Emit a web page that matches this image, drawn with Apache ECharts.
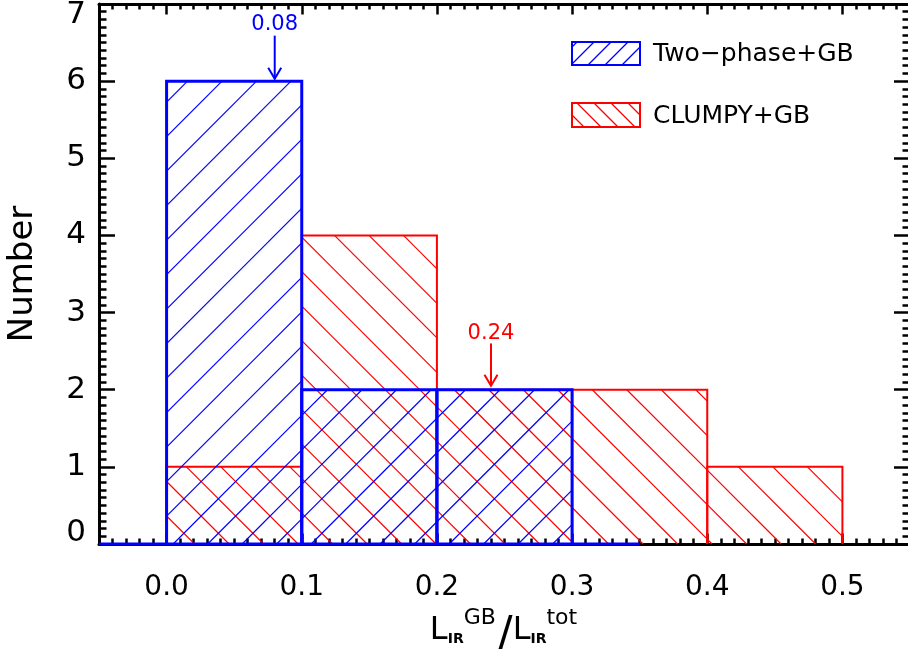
<!DOCTYPE html>
<html><head><meta charset="utf-8">
<script src="https://cdn.jsdelivr.net/npm/echarts@6/dist/echarts.min.js"></script>
<style>html,body{margin:0;padding:0;background:#fff}#c{width:908px;height:649px}</style>
</head><body><div id="c"></div>
<script>
// ---- data ----
const binStarts = [0.0, 0.1, 0.2, 0.3, 0.4];
const binWidth = 0.1;
const twoPhaseCounts = [6, 2, 2];
const clumpyCounts = [1, 4, 2, 2, 1];
const seriesNames = ['Two\u2212phase+GB', 'CLUMPY+GB'];
const xTickValues = [0.0, 0.1, 0.2, 0.3, 0.4, 0.5];
const xTickLabels = ['0.0', '0.1', '0.2', '0.3', '0.4', '0.5'];
const yTickValues = [0, 1, 2, 3, 4, 5, 6, 7];
const medianX = [0.08, 0.24];
const medianLabels = ['0.08', '0.24'];
const medianArrowTop = [6.59, 2.60];
const medianArrowTip = [6.03, 2.05];
const medianTextY = [6.74, 2.73];
const twoPhaseBaseline = [-0.05, 0.35];
const X_MIN = -0.05, X_MAX = 0.55, Y_MIN = 0, Y_MAX = 7;

const BLUE = '#0000ff', RED = '#ff0000';
const FONT = 'DejaVu Sans';

// minor tick positions (every 0.01 on x)
const xMinor = [];
for (let i = -5; i <= 55; i++) { if (i % 10 !== 0) xMinor.push(+(i / 100).toFixed(2)); }

function hatchLines(xl, yt, xr, yb, dir, spacing, px, py) {
  const segs = [];
  if (dir > 0) { // "/" : x + y = c
    const c0 = px + py;
    const k = Math.ceil((xl + yt - c0) / spacing);
    for (let c = c0 + k * spacing; c <= xr + yb; c += spacing) {
      const ya = Math.max(yt, c - xr), yb2 = Math.min(yb, c - xl);
      if (yb2 - ya > 0.3) segs.push([c - ya, ya, c - yb2, yb2]);
    }
  } else { // "\" : x - y = c
    const c0 = px - py;
    const k = Math.ceil((xl - yb - c0) / spacing);
    for (let c = c0 + k * spacing; c <= xr - yt; c += spacing) {
      const ya = Math.max(yt, xl - c), yb2 = Math.min(yb, xr - c);
      if (yb2 - ya > 0.3) segs.push([c + ya, ya, c + yb2, yb2]);
    }
  }
  return segs;
}

function histRender(color, dir, phase, outlineW) {
  return function (params, api) {
    const p0 = api.coord([api.value(0), 0]);
    const p1 = api.coord([api.value(1), api.value(2)]);
    const o = api.coord([0, 0]);
    const xl = p0[0], xr = p1[0], yt = p1[1], yb = p0[1];
    const children = hatchLines(xl, yt, xr, yb, dir, 34.5, o[0] + phase, o[1]).map(s => ({
      type: 'line', shape: { x1: s[0], y1: s[1], x2: s[2], y2: s[3] },
      style: { stroke: color, lineWidth: 1.2 }
    }));
    children.push({
      type: 'polyline', shape: { points: [[xl, yb], [xl, yt], [xr, yt], [xr, yb]] },
      style: { stroke: color, lineWidth: outlineW, fill: null }
    });
    return { type: 'group', children };
  };
}

function legendItem(y, h, color, dir, text) {
  const x = 572, w = 68;
  const els = hatchLines(x, y, x + w, y + h, dir, 17, x + 5, y).map(s => ({
    type: 'line', shape: { x1: s[0], y1: s[1], x2: s[2], y2: s[3] },
    style: { stroke: color, lineWidth: 1.2 }
  }));
  els.push({ type: 'rect', shape: { x, y, width: w, height: h }, style: { stroke: color, lineWidth: 2, fill: null } });
  els.push({ type: 'text', style: { text, x: 653, y: y + h / 2 + 1, fill: '#000', font: '25px "' + FONT + '"', verticalAlign: 'middle', align: 'left' } });
  return els;
}

const chart = echarts.init(document.getElementById('c'), null, { renderer: 'canvas' });

const xCommon = { type: 'value', min: X_MIN, max: X_MAX, splitLine: { show: false }, gridIndex: 0 };
const yCommon = { type: 'value', min: Y_MIN, max: Y_MAX, interval: 1, splitLine: { show: false }, gridIndex: 0 };

const option = {
  animation: false,
  backgroundColor: '#fff',
  grid: { left: 99, right: -2, top: 4, bottom: 105, containLabel: false, outerBoundsMode: 'none' },
  xAxis: [
    Object.assign({}, xCommon, {
      position: 'bottom',
      axisLine: { show: true, onZero: false, lineStyle: { color: '#000', width: 3 } },
      axisTick: { show: true, inside: true, length: 10.5, customValues: xTickValues, lineStyle: { color: '#000', width: 2.5 } },
      axisLabel: { show: true, customValues: xTickValues, margin: 30, color: '#000', fontSize: 28, fontFamily: FONT,
        formatter: v => { const i = xTickValues.findIndex(t => Math.abs(t - v) < 1e-6); return i >= 0 ? xTickLabels[i] : ''; } },
      name: '{L|L}{sub|IR}{sup|GB}{sl|/}{L|L}{sub|IR}{sup|tot}',
      nameLocation: 'middle', nameGap: 52,
      nameTextStyle: {
        color: '#000', fontFamily: FONT,
        rich: {
          L: { fontSize: 32, fontFamily: FONT, color: '#000', verticalAlign: 'middle' },
          sub: { fontSize: 14, fontWeight: 'bold', fontFamily: FONT, color: '#000', padding: [16, 0, 0, 0], verticalAlign: 'middle' },
          sup: { fontSize: 22, fontFamily: FONT, color: '#000', padding: [0, 2, 26, 0], verticalAlign: 'middle' },
          sl: { fontSize: 44, fontFamily: FONT, color: '#000', verticalAlign: 'middle', padding: [12, 0, 0, 0] }
        }
      }
    }),
    Object.assign({}, xCommon, {
      position: 'bottom',
      axisLine: { show: false, onZero: false },
      axisTick: { show: true, inside: true, length: 5.5, customValues: xMinor, lineStyle: { color: '#000', width: 2.5 } },
      axisLabel: { show: false }
    }),
    Object.assign({}, xCommon, {
      position: 'top',
      axisLine: { show: true, onZero: false, lineStyle: { color: '#000', width: 3 } },
      axisTick: { show: true, inside: true, length: 10.5, customValues: xTickValues, lineStyle: { color: '#000', width: 2.5 } },
      axisLabel: { show: false }
    }),
    Object.assign({}, xCommon, {
      position: 'top',
      axisLine: { show: false, onZero: false },
      axisTick: { show: true, inside: true, length: 5.5, customValues: xMinor, lineStyle: { color: '#000', width: 2.5 } },
      axisLabel: { show: false }
    })
  ],
  yAxis: [
    Object.assign({}, yCommon, {
      position: 'left',
      axisLine: { show: true, onZero: false, lineStyle: { color: '#000', width: 3 } },
      axisTick: { show: true, inside: true, length: 16, lineStyle: { color: '#000', width: 2.5 } },
      minorTick: { show: true, splitNumber: 10, length: 7.5, lineStyle: { color: '#000', width: 2.5 } },
      axisLabel: {
        show: true, margin: 13, color: '#000', fontSize: 31, fontFamily: FONT,
        formatter: v => v === yTickValues[0] ? '{lo|' + v + '}' : (v === yTickValues[yTickValues.length - 1] ? '{hi|' + v + '}' : '{n|' + v + '}'),
        rich: {
          n: { fontSize: 31, fontFamily: FONT, color: '#000' },
          lo: { fontSize: 31, fontFamily: FONT, color: '#000', padding: [0, 0, 22, 0] },
          hi: { fontSize: 31, fontFamily: FONT, color: '#000', padding: [22, 0, 0, 0] }
        }
      },
      name: 'Number', nameLocation: 'middle', nameGap: 59,
      nameTextStyle: { color: '#000', fontSize: 34, fontFamily: FONT }
    }),
    Object.assign({}, yCommon, {
      position: 'right',
      axisLine: { show: true, onZero: false, lineStyle: { color: '#000', width: 3 } },
      axisTick: { show: true, inside: true, length: 16, lineStyle: { color: '#000', width: 2.5 } },
      minorTick: { show: true, splitNumber: 10, length: 7.5, lineStyle: { color: '#000', width: 2.5 } },
      axisLabel: { show: false }
    })
  ],
  series: [
    {
      type: 'custom', name: seriesNames[1], xAxisIndex: 0, yAxisIndex: 0, z: 3,
      renderItem: histRender(RED, -1, 28, 2),
      data: clumpyCounts.map((c, i) => [binStarts[i], binStarts[i] + binWidth, c])
    },
    {
      type: 'custom', name: seriesNames[0], xAxisIndex: 0, yAxisIndex: 0, z: 4,
      renderItem: histRender(BLUE, 1, 6.6, 3),
      data: twoPhaseCounts.map((c, i) => [binStarts[i], binStarts[i] + binWidth, c])
    },
    {
      type: 'line', name: 'baseline', xAxisIndex: 0, yAxisIndex: 0, z: 5, symbol: 'none',
      lineStyle: { color: BLUE, width: 3 },
      data: twoPhaseBaseline.map(x => [x, 0])
    },
    {
      type: 'custom', name: 'medians', xAxisIndex: 0, yAxisIndex: 0, z: 6,
      renderItem: function (params, api) {
        const i = params.dataIndex;
        const color = i === 0 ? BLUE : RED;
        const top = api.coord([api.value(0), api.value(1)]);
        const tip = api.coord([api.value(0), api.value(2)]);
        const txt = api.coord([api.value(0), api.value(3)]);
        const st = { stroke: color, lineWidth: 2 };
        return {
          type: 'group', children: [
            { type: 'line', shape: { x1: top[0], y1: top[1], x2: tip[0], y2: tip[1] }, style: st },
            { type: 'polyline', shape: { points: [[tip[0] - 6.5, tip[1] - 11], [tip[0], tip[1]], [tip[0] + 6.5, tip[1] - 11]] }, style: Object.assign({ fill: null }, st) },
            { type: 'text', style: { text: medianLabels[i], x: txt[0], y: txt[1], fill: color, font: '21px "' + FONT + '"', align: 'center', verticalAlign: 'middle' } }
          ]
        };
      },
      data: medianX.map((x, i) => [x, medianArrowTop[i], medianArrowTip[i], medianTextY[i]])
    }
  ],
  graphic: [].concat(legendItem(42, 23, BLUE, 1, seriesNames[0]), legendItem(103, 24, RED, -1, seriesNames[1]))
};
chart.setOption(option);
</script>
</body></html>
